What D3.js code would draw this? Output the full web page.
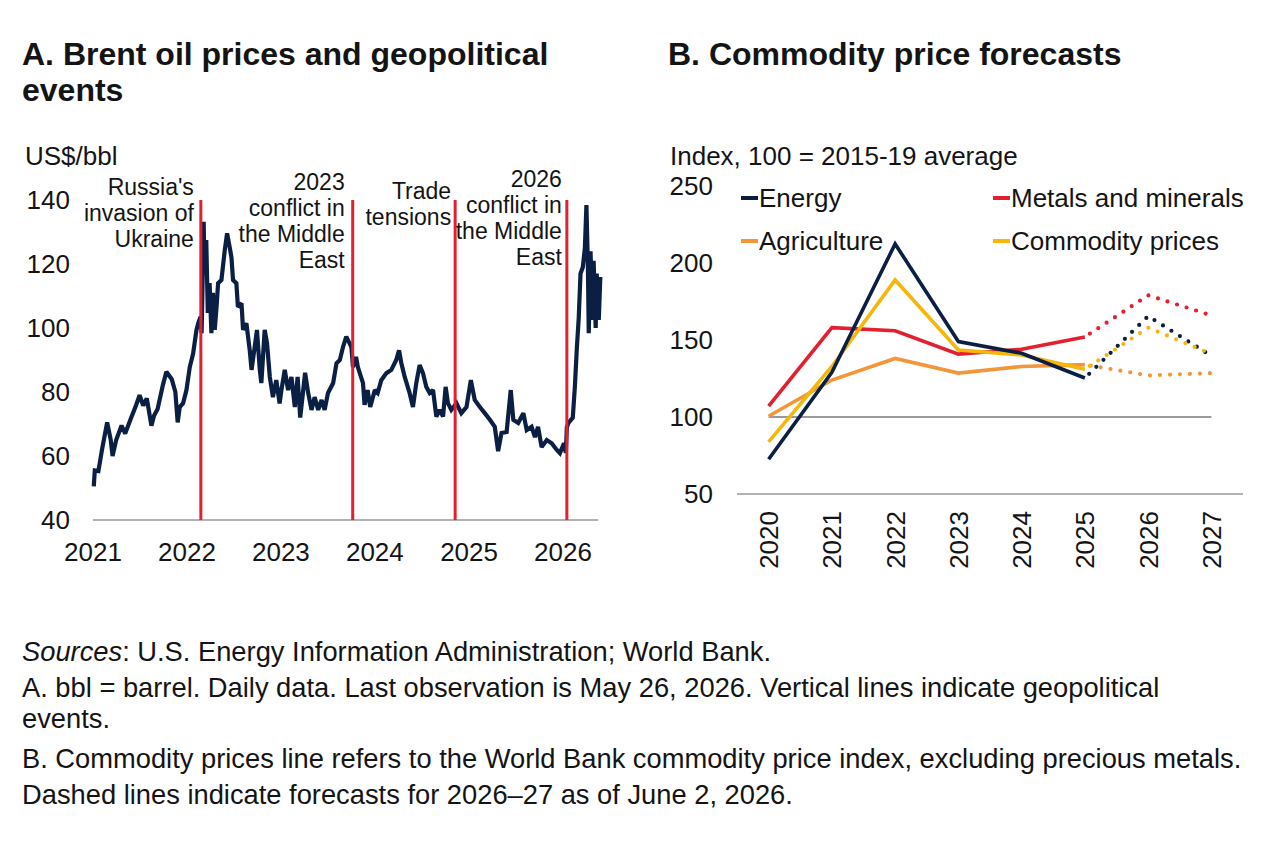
<!DOCTYPE html>
<html><head><meta charset="utf-8">
<script src="https://cdn.jsdelivr.net/npm/d3@7"></script>
<style>
body{margin:0;background:#fff;}
svg text{font-family:"Liberation Sans",Arial,Helvetica,sans-serif;fill:#141414;}
</style></head><body>
<svg id="c" width="1280" height="851"></svg>
<script>
// ---------- Panel A data ----------
const brentSeries = [
["2021-01-04",50.5],["2021-01-08",55.5],["2021-01-22",55.3],["2021-02-05",62],["2021-02-25",70.5],
["2021-03-11",65],["2021-03-18",60],["2021-04-01",65],["2021-04-22",69.5],["2021-05-06",67],
["2021-05-27",71.5],["2021-06-17",75.8],["2021-07-01",79],["2021-07-15",75.8],["2021-07-29",78],
["2021-08-16",69.5],["2021-08-26",72.6],["2021-09-09",74.7],["2021-09-29",82],["2021-10-13",86.3],
["2021-11-03",84],["2021-11-17",80],["2021-11-26",70.5],["2021-12-04",75.3],["2021-12-17",76.5],
["2021-12-30",80.6],["2022-01-12",87.8],["2022-01-25",92],["2022-02-07",99.4],["2022-02-14",101.5],
["2022-02-23",103.5],["2022-02-27",98.4],["2022-03-07",133.2],["2022-03-10",117],["2022-03-17",127.5],
["2022-03-23",104.7],["2022-03-30",114],["2022-04-06",98.4],["2022-04-12",111],["2022-04-19",99.4],
["2022-04-26",106.6],["2022-05-02",114],["2022-05-15",115],["2022-05-28",124.4],["2022-06-06",129.6],
["2022-06-16",125.3],["2022-06-23",122],["2022-06-29",115],["2022-07-12",114],["2022-07-18",106.6],
["2022-08-01",107.7],["2022-08-07",99.4],["2022-08-20",101.5],["2022-09-02",93],["2022-09-09",86.9],
["2022-09-21",94],["2022-09-30",99.4],["2022-10-11",86.9],["2022-10-17",82.8],["2022-10-30",99.4],
["2022-11-08",95.3],["2022-11-19",84.7],["2022-12-01",78.4],["2022-12-14",83.7],["2022-12-27",76.4],
["2023-01-03",80.6],["2023-01-16",86.9],["2023-01-29",80.6],["2023-02-11",84.7],["2023-02-24",75.3],
["2023-03-07",84.7],["2023-03-17",72],["2023-03-28",80],["2023-04-05",86],["2023-04-17",79.7],
["2023-04-30",74.4],["2023-05-12",78.4],["2023-05-26",74.4],["2023-06-08",77.5],["2023-06-20",74.4],
["2023-07-03",79.7],["2023-07-23",82.8],["2023-08-05",89],["2023-08-18",90],["2023-08-30",94],
["2023-09-12",97.3],["2023-10-02",94],["2023-10-08",87.8],["2023-10-20",91],["2023-10-27",87.8],
["2023-11-16",82.8],["2023-11-22",76],["2023-12-04",80.6],["2023-12-14",75.3],["2024-01-01",80.6],
["2024-01-12",79.7],["2024-01-26",83.7],["2024-02-15",85.9],["2024-03-05",86.9],["2024-03-24",90],
["2024-04-04",93],["2024-04-13",89],["2024-04-26",84.7],["2024-05-15",79.7],["2024-05-28",75.3],
["2024-06-10",82.8],["2024-06-23",88.4],["2024-07-06",85.9],["2024-07-19",81.6],["2024-08-01",79.7],
["2024-08-14",80.6],["2024-08-27",72.3],["2024-09-09",74.4],["2024-09-22",72.3],["2024-10-02",81.6],
["2024-10-11",76.5],["2024-10-24",74.4],["2024-11-13",76.5],["2024-12-02",73.4],["2024-12-22",75.3],
["2025-01-08",83.7],["2025-01-23",77.5],["2025-02-12",75.3],["2025-03-03",73.4],["2025-03-23",71.3],
["2025-04-11",69.1],["2025-04-24",61.5],["2025-05-07",67.2],["2025-05-27",67.5],["2025-06-12",80.6],
["2025-06-22",71.3],["2025-07-11",70.3],["2025-07-31",73.4],["2025-08-13",68.1],["2025-09-01",69.1],
["2025-09-14",65.9],["2025-09-26",69.1],["2025-10-10",62.8],["2025-10-30",65],["2025-11-18",64],
["2025-12-08",61.9],["2025-12-20",60.9],["2026-01-05",64],["2026-01-12",61],["2026-01-16",69],
["2026-01-22",70.3],["2026-02-08",72],["2026-02-16",81.5],["2026-02-24",94],["2026-03-03",103],
["2026-03-10",117],["2026-03-19",119],["2026-03-27",125],["2026-04-02",138.4],["2026-04-08",118],
["2026-04-11",98.4],["2026-04-18",124],["2026-04-26",102.5],["2026-04-30",121],["2026-05-08",100],
["2026-05-12",117],["2026-05-20",102.5],["2026-05-26",116]
];
const eventDates = ["2022-02-24","2023-10-07","2024-11-08","2026-01-16"];
const eventLabels = [
  ["Russia's","invasion of","Ukraine"],
  ["2023","conflict in","the Middle","East"],
  ["Trade","tensions"],
  ["2026","conflict in","the Middle","East"]
];
const brentYearTicks = ["2021","2022","2023","2024","2025","2026"];
const brentValueTicks = [40,60,80,100,120,140];

// ---------- Panel B data ----------
const forecastYears = ["2020","2021","2022","2023","2024","2025","2026","2027"];
const histYears = ["2020","2021","2022","2023","2024","2025"];
const fcYears = ["2025","2026","2027"];
const energyHist = [72.6,129,212.4,149,141.4,125.3];
const metalsHist = [107,158,156,140.8,144,152];
const agriHist = [100.5,124,138,128.5,132.8,134];
const commodityHist = [83.8,132.8,189,143.5,140.3,131];
const energyFc = [125.3,165.5,139.7];
const metalsFc = [152,179,166];
const agriFc = [134,127,128.5];
const commodityFc = [131,158,141];
const referenceLevel = 100;
const indexTicks = [50,100,150,200,250];
const seriesNames = ["Energy","Metals and minerals","Agriculture","Commodity prices"];

// ---------- styles ----------
const NAVY = "#0b1f45", RED = "#e2202f", ORANGE = "#f2963a", GOLD = "#f6b60a", GRAY = "#9a9a9a";
const AX = 26;
const svg = d3.select("#c");
const parse = d3.timeParse("%Y-%m-%d");

// ---------- Titles ----------
svg.append("text").attr("x",22).attr("y",65).attr("font-size",32).attr("font-weight","bold").text("A. Brent oil prices and geopolitical");
svg.append("text").attr("x",22).attr("y",101).attr("font-size",32).attr("font-weight","bold").text("events");
svg.append("text").attr("x",668).attr("y",65).attr("font-size",32).attr("font-weight","bold").text("B. Commodity price forecasts");

// ---------- Panel A ----------
const xA = d3.scaleTime().domain([parse("2021-01-01"), parse("2026-01-01")]).range([93, 563]);
const yA = d3.scaleLinear().domain([40,140]).range([520,200]);
const gA = svg.append("g");

gA.append("text").attr("x",25).attr("y",165).attr("font-size",AX).text("US$/bbl");
gA.selectAll(".yt").data(brentValueTicks).join("text")
  .attr("x",70).attr("y",d=>yA(d)).attr("dy","0.36em").attr("text-anchor","end").attr("font-size",AX).text(d=>d);

const brent = brentSeries.map(d=>({date:parse(d[0]), value:d[1]}));
const lastDate = brent[brent.length-1].date;
gA.append("line").attr("x1",xA(parse("2021-01-01"))).attr("x2",xA(lastDate)-2)
  .attr("y1",yA(40)).attr("y2",yA(40)).attr("stroke",GRAY).attr("stroke-width",1.5);

gA.selectAll(".xt").data(brentYearTicks).join("text")
  .attr("x",d=>xA(parse(d+"-01-01"))).attr("y",561).attr("text-anchor","middle").attr("font-size",AX).text(d=>d);

gA.append("path").datum(brent)
  .attr("d", d3.line().x(d=>xA(d.date)).y(d=>yA(d.value)))
  .attr("fill","none").attr("stroke",NAVY).attr("stroke-width",4.2).attr("stroke-linejoin","miter").attr("stroke-miterlimit",2);

const labelFirstBaseline = [195,190,199,187];
const labelGap = [7,8,4,5];
eventDates.forEach((ed,i)=>{
  const ex = xA(parse(ed));
  gA.append("line").attr("x1",ex).attr("x2",ex).attr("y1",yA(140)).attr("y2",yA(40))
    .attr("stroke",RED).attr("stroke-width",3);
  const t = gA.append("text").attr("text-anchor","end").attr("font-size",23);
  eventLabels[i].forEach((ln,j)=>{
    t.append("tspan").attr("x",ex-labelGap[i]).attr("y",labelFirstBaseline[i]+j*26).text(ln);
  });
});

// ---------- Panel B ----------
const xB = d3.scaleBand().domain(forecastYears).range([737,1243]).padding(0);
const cx = y => xB(y) + xB.bandwidth()/2;
const yB = d3.scaleLinear().domain([50,250]).range([494,186]);
const gB = svg.append("g");

gB.append("text").attr("x",670).attr("y",165).attr("font-size",AX).text("Index, 100 = 2015-19 average");
gB.selectAll(".yt").data(indexTicks).join("text")
  .attr("x",713).attr("y",d=>yB(d)).attr("dy","0.36em").attr("text-anchor","end").attr("font-size",AX).text(d=>d);

gB.append("line").attr("x1",737).attr("x2",1243).attr("y1",yB(50)).attr("y2",yB(50)).attr("stroke",GRAY).attr("stroke-width",1.5);
gB.append("line").attr("x1",cx("2020")).attr("x2",cx("2027")).attr("y1",yB(referenceLevel)).attr("y2",yB(referenceLevel)).attr("stroke","#777").attr("stroke-width",1.5);

gB.selectAll(".xt").data(forecastYears).join("text")
  .attr("transform",d=>`translate(${cx(d)},511) rotate(-90)`)
  .attr("dy","0.36em").attr("text-anchor","end").attr("font-size",AX).text(d=>d);

const lineB = d3.line().x(d=>cx(d[0])).y(d=>yB(d[1]));
const hist = [
  {v:agriHist, c:ORANGE},
  {v:metalsHist, c:RED},
  {v:commodityHist, c:GOLD},
  {v:energyHist, c:NAVY}
];
const fc = [
  {v:agriFc, c:ORANGE},
  {v:metalsFc, c:RED},
  {v:energyFc, c:NAVY},
  {v:commodityFc, c:GOLD}
];
fc.forEach(s=>{
  gB.append("path").datum(fcYears.map((y,i)=>[y,s.v[i]])).attr("d",lineB)
    .attr("fill","none").attr("stroke",s.c).attr("stroke-width",4.2)
    .attr("stroke-linecap","round").attr("stroke-dasharray","0 10").attr("stroke-dashoffset",-6);
});
hist.forEach(s=>{
  gB.append("path").datum(histYears.map((y,i)=>[y,s.v[i]])).attr("d",lineB)
    .attr("fill","none").attr("stroke",s.c).attr("stroke-width",3.6).attr("stroke-linejoin","miter");
});

// legend
const legendColors = [NAVY, RED, ORANGE, GOLD];
const legendPos = [[741,198],[993,198],[741,241],[993,241]];
seriesNames.forEach((n,i)=>{
  const [lx,ly] = legendPos[i];
  gB.append("line").attr("x1",lx).attr("x2",lx+17).attr("y1",ly).attr("y2",ly).attr("stroke",legendColors[i]).attr("stroke-width",4);
  gB.append("text").attr("x",lx+18).attr("y",ly).attr("dy","0.36em").attr("font-size",AX).text(n);
});

// ---------- Footer ----------
const foot = svg.append("g").attr("font-size",27.3);
const f1 = foot.append("text").attr("x",22).attr("y",661);
f1.append("tspan").attr("font-style","italic").text("Sources");
f1.append("tspan").text(": U.S. Energy Information Administration; World Bank.");
foot.append("text").attr("x",22).attr("y",697).text("A. bbl = barrel. Daily data. Last observation is May 26, 2026. Vertical lines indicate geopolitical");
foot.append("text").attr("x",22).attr("y",728).text("events.");
foot.append("text").attr("x",22).attr("y",768).text("B. Commodity prices line refers to the World Bank commodity price index, excluding precious metals.");
foot.append("text").attr("x",22).attr("y",804).text("Dashed lines indicate forecasts for 2026\u201327 as of June 2, 2026.");
</script>
</body></html>
